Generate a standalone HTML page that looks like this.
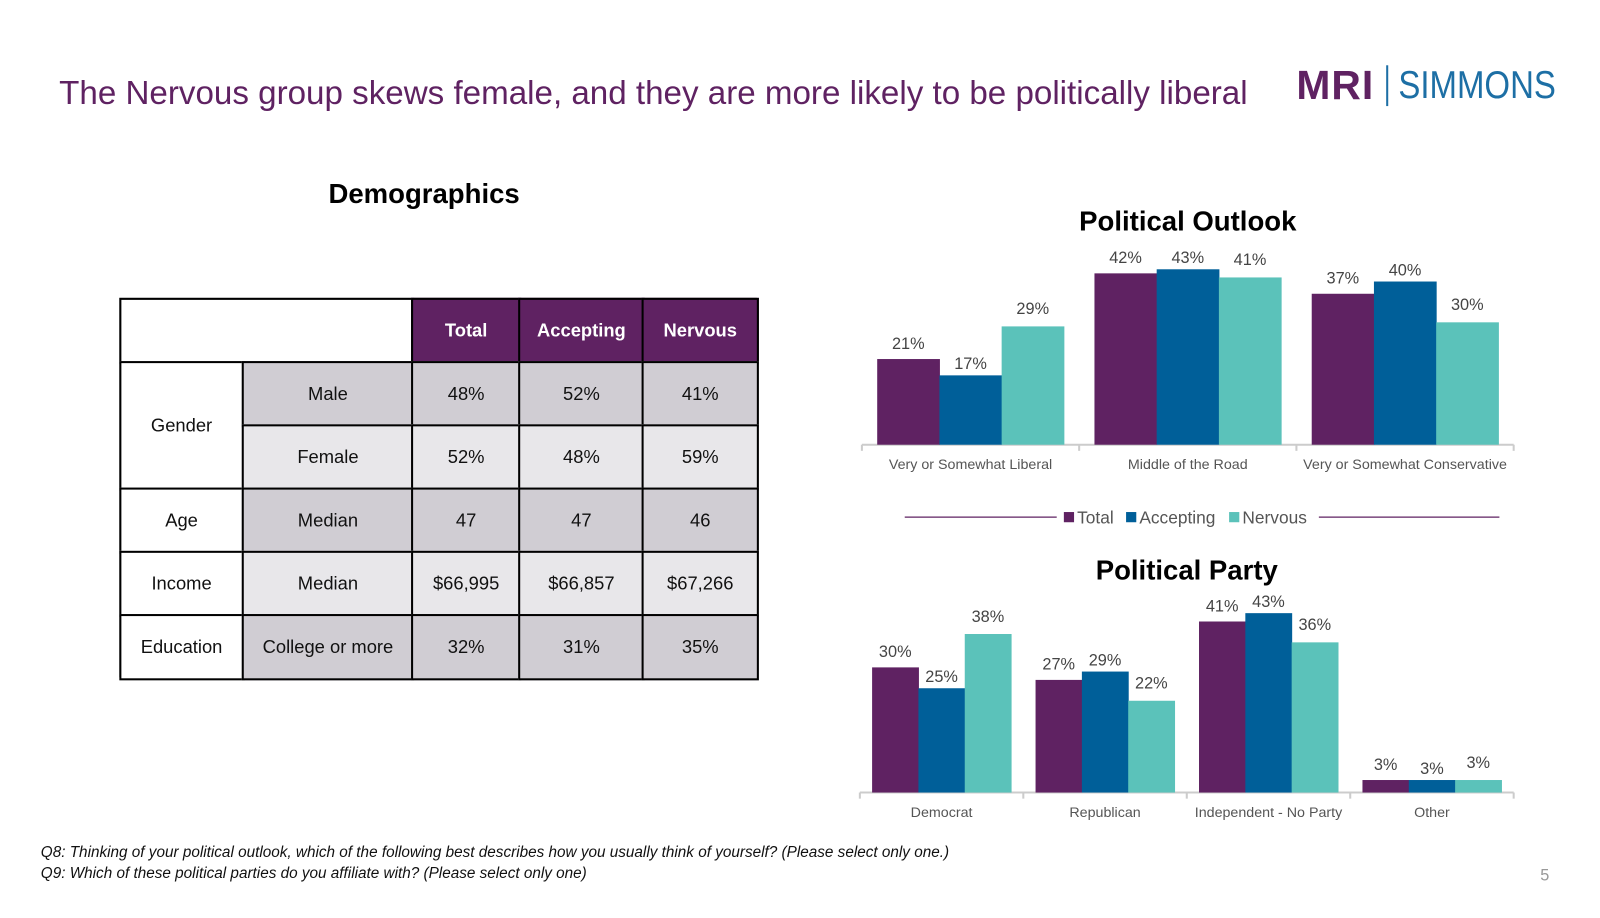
<!DOCTYPE html>
<html><head><meta charset="utf-8"><style>
body{margin:0;width:1600px;height:900px;background:#fff;position:relative;overflow:hidden;font-family:"Liberation Sans",sans-serif}
#wrap{position:absolute;left:0;top:0;width:1600px;height:900px;transform:scale(1.02);transform-origin:0 0}
.abs{position:absolute}
.c{position:absolute;box-sizing:border-box;border:2.5px solid #000;display:flex;align-items:center;justify-content:center;font-size:18px;color:#111}
svg text{font-family:"Liberation Sans",sans-serif}
</style></head><body>
<div id="wrap">
<div class="abs" style="left:58px;top:73px;font-size:32.5px;color:#5f2262">The Nervous group skews female, and they are more likely to be politically liberal</div>
<div class="abs" style="left:1271px;top:62px;height:44px;display:flex;align-items:center">
<span style="font-weight:900;font-size:40px;color:#5f2262;letter-spacing:1px">MRI</span>
<span style="width:2px;height:40px;background:#1d6fa5;margin:0 10px 0 12px"></span>
<span style="font-size:38px;color:#1d6fa5;transform:scaleX(0.85);transform-origin:left;display:inline-block">SIMMONS</span></div>
<div class="abs" style="left:322px;top:175px;font-size:27px;font-weight:bold;color:#000">Demographics</div>

<div class="abs" style="left:117px;top:292px;width:625px;height:372px;border:2.5px solid #000;box-sizing:border-box">
<div class="c" style="left:-2.5px;top:-2.5px;width:289px;height:65px;background:#fff"></div>
<div class="c" style="left:284px;top:-2.5px;width:108px;height:65px;background:#5f2262;color:#fff;font-weight:bold">Total</div>
<div class="c" style="left:389px;top:-2.5px;width:124px;height:65px;background:#5f2262;color:#fff;font-weight:bold">Accepting</div>
<div class="c" style="left:510px;top:-2.5px;width:115px;height:65px;background:#5f2262;color:#fff;font-weight:bold">Nervous</div>
<div id="rows"></div>
</div>

<svg class="abs" style="left:0;top:0" width="1600" height="900" id="charts"></svg>

<div class="abs" style="left:40px;top:825px;font-size:15px;font-style:italic;line-height:21px;color:#111">Q8: Thinking of your political outlook, which of the following best describes how you usually think of yourself? (Please select only one.)<br>Q9: Which of these political parties do you affiliate with? (Please select only one)</div>
<div class="abs" style="left:1510px;top:850px;font-size:16px;color:#999">5</div>
</div>
<script>
const tableRows=[["Gender","Male","48%","52%","41%"],["","Female","52%","48%","59%"],["Age","Median","47","47","46"],["Income","Median","$66,995","$66,857","$67,266"],["Education","College or more","32%","31%","35%"]];
const outlookCats=["Very or Somewhat Liberal","Middle of the Road","Very or Somewhat Conservative"];
const outlookTotal=[21,42,37];
const outlookAccepting=[17,43,40];
const outlookNervous=[29,41,30];
const partyCats=["Democrat","Republican","Independent - No Party","Other"];
const partyTotal=[30,27,41,3];
const partyAccepting=[25,29,43,3];
const partyNervous=[38,22,36,3];
const seriesNames=["Total","Accepting","Nervous"];
const colors=["#5f2262","#005f99","#5bc2ba"];

const rows=document.getElementById('rows');
const colX=[-2.5,118,284,389,510],colW=[123,169,108,124,115];
tableRows.forEach((r,i)=>{
  const top=60+i*62, bg=(i%2==0)?"#d0cdd3":"#e8e7ea";
  r.forEach((v,j)=>{
    if(j==0){ if(i==1) return; }
    const d=document.createElement('div');d.className='c';
    
    
    let h=64.5; if(j==0&&i==0) h=126.5;
    d.style.cssText=`left:${colX[j]}px;top:${top}px;width:${colW[j]}px;height:${h}px;background:${j==0?'#fff':bg}`;
    d.textContent=v;rows.appendChild(d);
  });
});

const svg=document.getElementById('charts');const NS='http://www.w3.org/2000/svg';
function el(t,a,txt){const e=document.createElementNS(NS,t);for(const k in a)e.setAttribute(k,a[k]);if(txt!=null)e.textContent=txt;svg.appendChild(e);return e;}
function chart(title,titleY,cats,series,x0,x1,base,scale,pad){
  const t=el('text',{x:(x0+x1)/2,y:titleY,'text-anchor':'middle','font-size':27,'font-weight':'bold',fill:'#000'},title);
  
  
  const cw=(x1-x0)/cats.length;
  const ax=el('line',{x1:x0,x2:x1,y1:base,y2:base,stroke:'#ccc','stroke-width':2});
  
  
  for(let i=0;i<=cats.length;i++){el('line',{x1:x0+i*cw,x2:x0+i*cw,y1:base,y2:base+6,stroke:'#ccc','stroke-width':2});}
  const bw=(cw-2*pad)/3;
  cats.forEach((c,i)=>{
    const lab=el('text',{x:x0+i*cw+cw/2,y:base+24,'text-anchor':'middle','font-size':14,fill:'#555'},c);
    
    
    series.forEach((s,k)=>{
      const v=s[i],h=v*scale,x=x0+i*cw+pad+k*bw;
      const r=el('rect',{x:x,y:base-h,width:bw+0.5,height:h,fill:colors[k]});
      
      
      const off=(k==1)?6:(k==0?10:12);
      const vl=el('text',{x:x+bw/2,y:base-h-off,'text-anchor':'middle','font-size':16,fill:'#444'},v+'%');
      
      
    });
  });
}
chart("Political Outlook",226,outlookCats,[outlookTotal,outlookAccepting,outlookNervous],845,1484,436,4.0,15);
chart("Political Party",568,partyCats,[partyTotal,partyAccepting,partyNervous],843,1484,777,4.09,12);
el('line',{x1:887,x2:1036,y1:507,y2:507,stroke:'#5f2262','stroke-width':1.2});
el('line',{x1:1293,x2:1470,y1:507,y2:507,stroke:'#5f2262','stroke-width':1.2});
const lx=[1043,1104,1205];
seriesNames.forEach((n,k)=>{
  const r=el('rect',{x:lx[k],y:502,width:10,height:10,fill:colors[k]});
  
  
  const t=el('text',{x:lx[k]+13,y:513,'font-size':17,fill:'#555'},n);
  
  
});
</script>
</body></html>
